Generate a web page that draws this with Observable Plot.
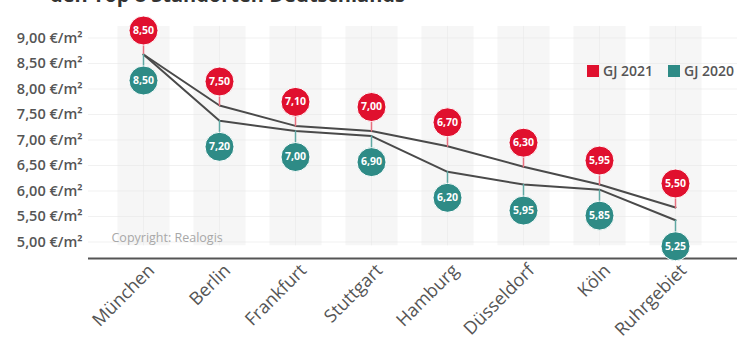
<!DOCTYPE html>
<html>
<head>
<meta charset="utf-8">
<script src="https://cdn.jsdelivr.net/npm/d3@7"></script>
<script src="https://cdn.jsdelivr.net/npm/@observablehq/plot@0.6"></script>
<style>
  html, body { margin: 0; padding: 0; background: #fff; }
  #wrap { position: relative; width: 737px; height: 349px; overflow: hidden; font-family: "Open Sans", sans-serif; }
  #title { position: absolute; top: -19px; left: 50px; font-size: 20px; font-weight: 700; color: #333; white-space: nowrap; }
  #legend { position: absolute; top: 61px; left: 587px; display: flex; align-items: center; font-size: 14px; font-weight: 600; color: #555; white-space: nowrap; }
  #legend .sw { display: inline-block; width: 12px; height: 12px; margin-right: 4px; }
  #legend .item { display: flex; align-items: center; margin-right: 15px; }
</style>
</head>
<body>
<div id="wrap">
  <div id="title">den Top 8 Standorten Deutschlands</div>
  <div id="chart"></div>
  <div id="legend"></div>
</div>
<script>
const cities = ["München", "Berlin", "Frankfurt", "Stuttgart", "Hamburg", "Düsseldorf", "Köln", "Ruhrgebiet"];
const values2021 = [8.50, 7.50, 7.10, 7.00, 6.70, 6.30, 5.95, 5.50];
const values2020 = [8.50, 7.20, 7.00, 6.90, 6.20, 5.95, 5.85, 5.25];
const yTicks = [5.0, 5.5, 6.0, 6.5, 7.0, 7.5, 8.0, 8.5, 9.0];
const seriesNames = ["GJ 2021", "GJ 2020"];
const seriesColors = ["#e0102e", "#2e8b86"];
const stemColors = ["#e8707f", "#5fa8a3"];
const copyright = "Copyright: Realogis";

const data = cities.map((c, i) => ({city: c, v2021: values2021[i], v2020: values2020[i]}));
const fmt = v => v.toFixed(2).replace(".", ",");
const font = "'Open Sans', sans-serif";

const stem = { draw(context, l) { context.moveTo(0, 0); context.lineTo(0, -l); } };

const chart = Plot.plot({
  width: 737,
  height: 349,
  marginTop: 3,
  marginLeft: 88,
  marginRight: 0,
  marginBottom: 91,
  style: { fontFamily: font, background: "transparent" },
  x: { type: "point", domain: cities, range: [140, 677], padding: 0 },
  y: { domain: [4.5, 9.5], range: [258, 3] },
  marks: [
    Plot.ruleX(cities, { x: d => d, y1: 4.75, y2: 9.05, stroke: "#f6f6f6", strokeWidth: 52 }),
    Plot.ruleX(cities, { x: d => d, y1: 4.75, y2: 9.05, stroke: "#eeeeee", strokeWidth: 1 }),
    Plot.gridY(yTicks, { stroke: "#e8e8e8", strokeOpacity: 0.6, dy: 9 }),
    Plot.axisY({ ticks: yTicks, tickSize: 0, tickPadding: 6, dy: 9, tickFormat: d => fmt(d) + " €/m²", fontSize: 14.5, fontWeight: 600, fill: "#555", label: null }),
    Plot.axisX({ tickSize: 0, tickRotate: -45, tickPadding: 9, dx: 8, fontSize: 18, fontWeight: 500, fill: "#555", label: null }),
    Plot.ruleY([4.5], { stroke: "#555", strokeWidth: 2 }),
    Plot.text([copyright], { frameAnchor: "bottom-left", dx: 23, dy: -17, textAnchor: "start", fill: "#a8a8a8", fontSize: 12.5 }),
    Plot.line(data, { x: "city", y: "v2021", stroke: "#4a4a4a", strokeWidth: 2 }),
    Plot.line(data, { x: "city", y: "v2020", stroke: "#4a4a4a", strokeWidth: 2 }),
    Plot.vector(data, { x: "city", y: "v2021", length: 24, rotate: 0, anchor: "start", shape: stem, stroke: stemColors[0], strokeWidth: 1.5 }),
    Plot.vector(data, { x: "city", y: "v2020", length: 26, rotate: 180, anchor: "start", shape: stem, stroke: stemColors[1], strokeWidth: 1.5 }),
    Plot.dot(data, { x: "city", y: "v2021", dy: -24, r: 14.5, fill: seriesColors[0], stroke: "#fff", strokeWidth: 1 }),
    Plot.dot(data, { x: "city", y: "v2020", dy: 26, r: 14.5, fill: seriesColors[1], stroke: "#fff", strokeWidth: 1 }),
    Plot.text(data, { x: "city", y: "v2021", dy: -24, text: d => fmt(d.v2021), fill: "#fff", fontSize: 10.5, fontWeight: 700 }),
    Plot.text(data, { x: "city", y: "v2020", dy: 26, text: d => fmt(d.v2020), fill: "#fff", fontSize: 10.5, fontWeight: 700 })
  ]
});
document.getElementById("chart").appendChild(chart);

const legend = document.getElementById("legend");
seriesNames.forEach((n, i) => {
  const item = document.createElement("span");
  item.className = "item";
  const sw = document.createElement("span");
  sw.className = "sw";
  sw.style.background = seriesColors[i];
  item.appendChild(sw);
  item.appendChild(document.createTextNode(n));
  legend.appendChild(item);
});
</script>
</body>
</html>
